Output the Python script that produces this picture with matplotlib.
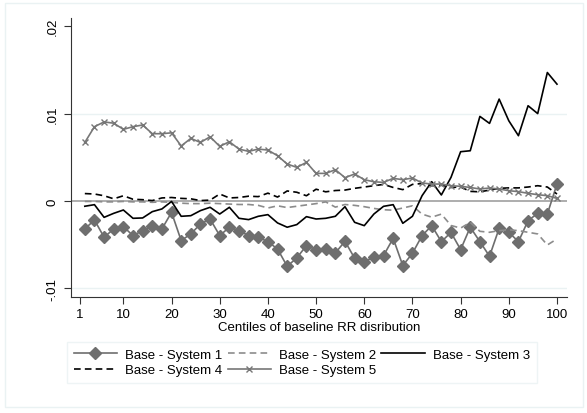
import matplotlib
matplotlib.use("Agg")
import matplotlib.pyplot as plt
from matplotlib.patches import Rectangle
import numpy as np

plt.rcParams['font.family'] = ['Liberation Sans', 'DejaVu Sans']

centiles = list(range(2, 101, 2))

sys1 = [-3.2, -2.17, -4.15, -3.2, -2.93, -3.96, -3.39, -2.82, -3.2, -1.3,
        -4.53, -3.77, -2.63, -2.06, -3.96, -3.0, -3.39, -3.96, -4.15, -4.65,
        -5.49, -7.47, -6.51, -5.1, -5.56, -5.49, -5.94, -4.61, -6.55, -6.93,
        -6.44, -6.25, -4.27, -7.39, -5.98, -3.96, -2.82, -4.65, -3.6, -5.56,
        -3.0, -4.65, -6.32, -3.12, -3.58, -4.65, -2.25, -1.41, -1.49, 1.94]
sys2 = [-0.05, -0.05, -0.1, -0.1, -0.05, -0.1, -0.1, -0.15, -0.1, -0.15,
        -0.25, -0.3, -0.3, -0.25, -0.3, -0.35, -0.4, -0.4, -0.5, -0.8,
        -0.55, -0.75, -0.6, -0.45, -0.3, -0.1, -0.7, -0.4, -0.5, -0.65,
        -0.85, -1.0, -1.05, -0.8, -0.55, -1.5, -1.85, -1.5, -2.8, -3.1,
        -2.44, -3.47, -3.58, -3.39, -3.3, -3.39, -3.58, -3.77, -5.03, -4.34]
sys3 = [-0.6, -0.42, -1.87, -1.41, -1.03, -1.98, -1.94, -1.22, -0.91, -0.05,
        -1.75, -1.68, -1.1, -0.72, -1.49, -0.72, -1.98, -2.13, -1.75, -1.56,
        -2.51, -3.0, -2.7, -1.79, -2.06, -1.98, -1.75, -0.65, -2.44, -2.82,
        -1.49, -0.61, -0.42, -2.55, -1.75, 0.61, 2.21, 0.69, 2.7, 5.64,
        5.75, 9.68, 8.88, 11.66, 9.18, 7.47, 10.9, 10.0, 14.7, 13.37]
sys4 = [0.85, 0.8, 0.6, 0.25, 0.6, 0.2, 0.15, 0.05, 0.35, 0.4,
        0.3, 0.25, 0.05, 0.1, 0.8, 0.35, 0.4, 0.55, 0.5, 0.9,
        0.45, 1.15, 1.0, 0.6, 1.35, 1.05, 1.2, 1.25, 1.45, 1.6,
        1.75, 1.9, 1.55, 1.3, 1.9, 2.0, 1.75, 1.8, 1.55, 1.6,
        1.1, 1.05, 1.25, 1.45, 1.5, 1.5, 1.6, 1.75, 1.6, 0.8]
sys5 = [6.7, 8.5, 9.05, 8.9, 8.2, 8.5, 8.7, 7.7, 7.7, 7.8,
        6.3, 7.16, 6.7, 7.35, 6.25, 6.78, 5.94, 5.68, 5.94, 5.83,
        5.18, 4.23, 3.85, 4.42, 3.16, 3.16, 3.58, 2.67, 3.09, 2.44,
        2.2, 2.13, 2.59, 2.44, 2.63, 2.06, 1.94, 1.94, 1.75, 1.68,
        1.55, 1.37, 1.49, 1.37, 1.18, 1.07, 0.88, 0.72, 0.61, 0.3]

labels = ["Base - System 1", "Base - System 2", "Base - System 3",
          "Base - System 4", "Base - System 5"]
xticks = [1, 10, 20, 30, 40, 50, 60, 70, 80, 90, 100]
yticks = [-0.01, 0, 0.01, 0.02]
yticklabels = ["-.01", "0", ".01", ".02"]

scale = 0.001
fig = plt.figure(figsize=(5.87, 4.14), dpi=100)
ax = fig.add_axes([71/587, 1-298/414, (567-71)/587, (298-19)/414])

grid_c = '#EAF2F3'
for yv in [-0.01, 0.01]:
    ax.axhline(yv, color=grid_c, lw=1.0, zorder=0)
ax.axhline(0, color='#A0A0A0', lw=1.2, zorder=1)

lw = 1.2
x = np.array(centiles)
h1, = ax.plot(x, np.array(sys1)*scale, color='#6E6E6E', lw=lw, marker='D', ms=6,
              mec='#6E6E6E', mfc='#6E6E6E', label=labels[0], zorder=3)
h2, = ax.plot(x, np.array(sys2)*scale, color='#8C8C8C', lw=lw, dashes=(4, 2.5),
              label=labels[1], zorder=3)
h3, = ax.plot(x, np.array(sys3)*scale, color='black', lw=lw, label=labels[2], zorder=3)
h4, = ax.plot(x, np.array(sys4)*scale, color='black', lw=lw, dashes=(4, 2.5),
              label=labels[3], zorder=3)
h5, = ax.plot(x, np.array(sys5)*scale, color='#777777', lw=lw, marker='x', ms=4,
              mew=1.0, label=labels[4], zorder=3)

ax.set_xlim(1 + (71-80)/4.818, 1 + (567-80)/4.818)
ax.set_ylim((202-298)/8.74*scale, (202-19)/8.74*scale)
ax.set_xticks(xticks)
ax.set_xticklabels([str(t) for t in xticks])
ax.set_yticks(yticks)
ax.set_yticklabels(yticklabels, rotation=90, va='center')
ax.tick_params(axis='both', direction='out', length=5, width=0.8,
               color='#333333', labelsize=9.5, labelcolor='black')
ax.tick_params(axis='y', pad=4)
ax.tick_params(axis='x', pad=3)
for s in ['top', 'right']:
    ax.spines[s].set_visible(False)
for s in ['left', 'bottom']:
    ax.spines[s].set_color('#333333')
    ax.spines[s].set_linewidth(0.8)
ax.set_xlabel("Centiles of baseline RR disribution", fontsize=9.5, labelpad=1)

# row-wise order for a 3-column legend (matplotlib fills column-wise)
handles = [h1, h4, h2, h5, h3]
leg_labels = [labels[0], labels[3], labels[1], labels[4], labels[2]]
leg = fig.legend(handles, leg_labels, loc='upper left',
                 bbox_to_anchor=(67/587, 1-343/414), ncol=3,
                 fontsize=9.5, frameon=True, fancybox=False, handlelength=3.3,
                 columnspacing=0.4, handletextpad=0.6, borderpad=0.5,
                 labelspacing=0.25, borderaxespad=0)
leg.get_frame().set_edgecolor(grid_c)
leg.get_frame().set_linewidth(1.0)

fig.patches.append(Rectangle((5/587, 1-408/414), 578/587, 404/414,
                             transform=fig.transFigure, fill=False,
                             edgecolor=grid_c, lw=1.0))

fig.savefig("out.png", dpi=100)
